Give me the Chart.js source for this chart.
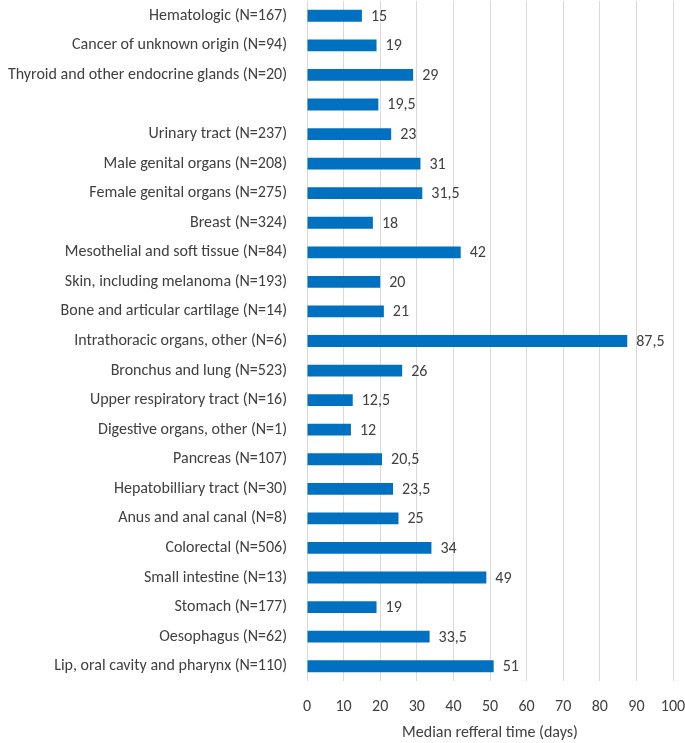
<!DOCTYPE html>
<html>
<head>
<meta charset="utf-8">
<script src="https://cdn.jsdelivr.net/npm/chart.js@4/dist/chart.umd.min.js"></script>
<style>
html,body{margin:0;padding:0;background:#fff;}
#wrap{width:685px;height:743px;position:relative;}
</style>
</head>
<body>
<div id="wrap"><canvas id="c" width="685" height="743"></canvas></div>
<script>
const categories = [
  "Hematologic (N=167)",
  "Cancer of unknown origin (N=94)",
  "Thyroid and other endocrine glands (N=20)",
  "",
  "Urinary tract (N=237)",
  "Male genital organs (N=208)",
  "Female genital organs (N=275)",
  "Breast (N=324)",
  "Mesothelial and soft tissue (N=84)",
  "Skin, including melanoma (N=193)",
  "Bone and articular cartilage (N=14)",
  "Intrathoracic organs, other (N=6)",
  "Bronchus and lung (N=523)",
  "Upper respiratory tract (N=16)",
  "Digestive organs, other (N=1)",
  "Pancreas (N=107)",
  "Hepatobilliary tract (N=30)",
  "Anus and anal canal (N=8)",
  "Colorectal (N=506)",
  "Small intestine (N=13)",
  "Stomach (N=177)",
  "Oesophagus (N=62)",
  "Lip, oral cavity and pharynx (N=110)"
];
const medianDays = [15, 19, 29, 19.5, 23, 31, 31.5, 18, 42, 20, 21, 87.5, 26, 12.5, 12, 20.5, 23.5, 25, 34, 49, 19, 33.5, 51];
const xTicks = [0, 10, 20, 30, 40, 50, 60, 70, 80, 90, 100];
const axisTitle = "Median refferal time (days)";

const FONT = "Carlito, Lato, 'Open Sans', sans-serif";
const TXT = "#404040";

const valueLabels = {
  id: 'valueLabels',
  afterDatasetsDraw(chart) {
    const ctx = chart.ctx;
    const meta = chart.getDatasetMeta(0);
    ctx.save();
    ctx.font = "16px " + FONT;
    ctx.fillStyle = TXT;
    ctx.textAlign = 'left';
    ctx.textBaseline = 'middle';
    meta.data.forEach((bar, i) => {
      const v = chart.data.datasets[0].data[i];
      ctx.fillText(String(v).replace('.', ','), bar.x + 9, bar.y + 1);
    });
    ctx.restore();
  }
};

new Chart(document.getElementById('c'), {
  type: 'bar',
  data: {
    labels: categories,
    datasets: [{
      data: medianDays,
      backgroundColor: '#0070C0',
      borderWidth: 0,
      barPercentage: 0.4,
      categoryPercentage: 1.0
    }]
  },
  options: {
    indexAxis: 'y',
    responsive: false,
    animation: false,
    devicePixelRatio: 1,
    layout: { padding: { top: 1, right: 12, left: 0, bottom: 0 } },
    plugins: { legend: { display: false }, tooltip: { enabled: false } },
    scales: {
      x: {
        min: 0, max: 100,
        afterBuildTicks(scale) { scale.ticks = xTicks.map(v => ({ value: v })); },
        afterFit(scale) { scale.height = 62; scale.paddingLeft = 0; scale.paddingRight = 0; },
        grid: { color: '#D9D9D9', lineWidth: 1, drawTicks: false },
        border: { display: false },
        ticks: { color: TXT, font: { size: 16, family: FONT }, padding: 16, maxRotation: 0 },
        title: { display: true, text: axisTitle, color: TXT, font: { size: 16, family: FONT }, padding: { top: 4, bottom: 0 } }
      },
      y: {
        afterFit(scale) { scale.width = 307; scale.paddingTop = 0; scale.paddingBottom = 0; },
        grid: { display: false, drawTicks: false },
        border: { display: false },
        ticks: { color: TXT, font: { size: 16, family: FONT }, padding: 20, autoSkip: false }
      }
    }
  },
  plugins: [valueLabels]
});
</script>
</body>
</html>
